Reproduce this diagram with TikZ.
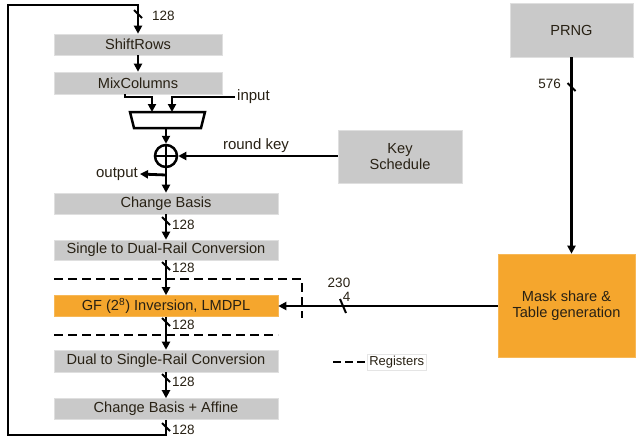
\documentclass[tikz,border=0pt]{standalone}
\usepackage{fontspec}
\setmainfont{Liberation Sans}
\usetikzlibrary{arrows.meta,calc}
\definecolor{boxgray}{RGB}{201,201,201}
\definecolor{boxorange}{RGB}{245,166,45}
\definecolor{txt}{RGB}{40,33,20}
\tikzset{
  blk/.style={rectangle, fill=boxgray, draw=boxgray!60!white, line width=0.6pt, minimum height=21pt, inner sep=0pt, font=\fontsize{14.6}{16.5}\selectfont, text=txt},
  orng/.style={fill=boxorange, draw=boxorange!80!white},
  wire/.style={line width=2.8pt, draw=black},
  arr/.style={wire, -{Triangle[length=8pt,width=8pt]}},
  reg/.style={line width=2.8pt, dash pattern=on 9pt off 5pt},
  lbl/.style={font=\fontsize{13.5}{14}\selectfont, text=txt, inner sep=1pt},
  big/.style={font=\fontsize{15}{17}\selectfont, text=txt, inner sep=2pt},
  bus/.pic={\draw[line width=2pt] (-4,-4) -- (4,4);},
  busl/.pic={\draw[line width=2pt] (-3,-7) -- (3,7);}
}
\begin{document}
\begin{tikzpicture}[x=1pt,y=-1pt]
\useasboundingbox (0,0) rectangle (637,442);
\fill[white] (0,0) rectangle (637,442);

% boxes
\node[blk, minimum width=168pt] (sr) at (138,44.5) {ShiftRows};
\node[blk, minimum width=168pt, minimum height=22pt] (mc) at (138,83) {MixColumns};
\node[blk, minimum width=224pt] (cb) at (166,203.5) {Change Basis};
\node[blk, minimum width=224pt, minimum height=20pt] (sd) at (166,250) {Single to Dual-Rail Conversion};
\node[blk, orng, minimum width=224pt] (gf) at (166,306) {GF (2\textsuperscript{8}) Inversion, LMDPL};
\node[blk, minimum width=224pt, minimum height=22pt] (ds) at (166,361) {Dual to Single-Rail Conversion};
\node[blk, minimum width=224pt] (cba) at (166,409) {Change Basis + Affine};
\node[blk, minimum width=123pt, minimum height=54pt] (prng) at (571.5,30) {PRNG};
\node[blk, minimum width=124pt, minimum height=53pt, align=center] (ks) at (400,156.5) {Key\\Schedule};
\node[blk, orng, minimum width=137pt, minimum height=103pt, align=center] (mask) at (566.5,305.5) {Mask share \&\\Table generation};

% mux
\coordinate (mtl) at (130,112);
\coordinate (mtr) at (205,112);
\coordinate (mbr) at (201,128);
\coordinate (mbl) at (134,128);
\draw[line width=2.5pt, line join=miter] (mtl) -- (mtr) -- (mbr) -- (mbl) -- cycle;
\coordinate (muxin1) at (152,112);
\coordinate (muxin2) at (172,112);
\coordinate (muxout) at (166,128);
\coordinate (mcout) at (125,94);

% xor
\node[circle, draw, line width=2.5pt, minimum size=22pt, inner sep=0pt] (xor) at (166,156) {};
\draw[line width=2.5pt] (xor.north) -- (xor.south) (xor.west) -- (xor.east);

% top loop
\draw[arr] (cba.south) |- (8,435) |- (138,5) -- (sr.north);
\pic at (138,14) {bus};
\node[lbl, anchor=west] at (151,16) {128};
\pic at (166,427) {bus};
\node[lbl, anchor=west] at (171,430) {128};

\draw[arr] (sr) -- (mc);
\draw[arr] (mcout) |- (152,97) -- (muxin1);
\node[big, anchor=west] (inp) at (235,97) {input};
\draw[arr] (inp.west) -| (muxin2);
\draw[arr] (muxout) -- (xor.north);
\draw[arr] (ks.west |- xor) -- (xor.east);
\node[big] (rk) at (256,146) {round key};
\draw[arr] (xor.south) -- (cb.north);
\coordinate (obr) at (166,175);
\node[big, anchor=east] (outl) at (140,174) {output};
\draw[arr] (obr) -- (outl.east);

% column
\draw[arr] (cb.south) -- (sd.north);
\pic at (166,221) {bus};
\node[lbl, anchor=west] at (171,225) {128};
\draw[arr] (sd.south) -- (gf.north);
\pic at (166,266) {bus};
\node[lbl, anchor=west] at (171,268) {128};
\draw[arr] (gf.south) -- (ds.north);
\pic at (166,322) {bus};
\node[lbl, anchor=west] at (171,325) {128};
\draw[arr] (ds.south) -- (cba.north);
\pic at (166,378) {bus};
\node[lbl, anchor=west] at (171,382) {128};

% registers
\draw[reg] (54,279) -- (302,279) -- (302,318);
\draw[reg] (54,335) -- (278,335);

% right side
\draw[arr] (prng.south) -- (prng.south |- mask.north);
\pic at (571.5,87) {bus};
\node[lbl, anchor=east] at (562,84) {576};
\draw[arr] (mask.west |- gf.east) -- (gf.east);
\pic at (343,306) {busl};
\node[lbl, align=right] at (339,290) {230\\4};

% legend
\draw[line width=2.6pt, dash pattern=on 8pt off 4pt] (333,362) -- (367,362);
\node[lbl, font=\fontsize{13}{14}\selectfont, draw=gray!20, line width=0.5pt, anchor=west, inner sep=2pt] at (367,362) {Registers};
\end{tikzpicture}
\end{document}
